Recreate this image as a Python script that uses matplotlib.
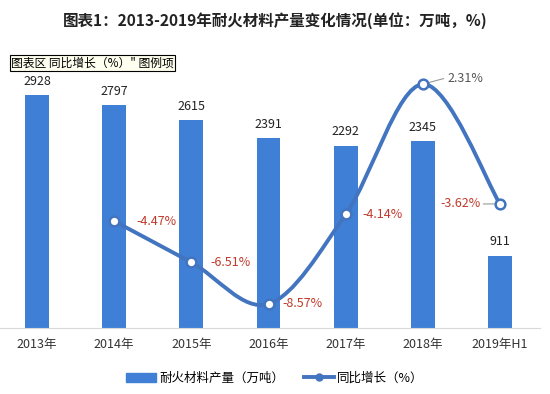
import numpy as np
import matplotlib
matplotlib.use('Agg')
import matplotlib.pyplot as plt
from matplotlib.path import Path
from matplotlib.patches import PathPatch
from matplotlib.lines import Line2D
from matplotlib.patches import Patch

plt.rcParams['font.family'] = ['Noto Sans CJK SC', 'DejaVu Sans']

years = ['2013年', '2014年', '2015年', '2016年', '2017年', '2018年', '2019年H1']
output = [2928, 2797, 2615, 2391, 2292, 2345, 911]
growth = [-4.47, -6.51, -8.57, -4.14, 2.31, -3.62]   # 2014 .. 2019H1
growth_lbl = ['-4.47%', '-6.51%', '-8.57%', '-4.14%', '2.31%', '-3.62%']

bar_c = '#3f80d6'
line_c = '#4274bf'
red = '#c0392b'

fig = plt.figure(figsize=(5.5, 3.94), dpi=100)
ax = fig.add_axes([0.0, 0.1675, 0.982, 0.68])
x = np.arange(len(years))
ax.bar(x, output, width=0.31, color=bar_c, zorder=2)
for xi, v in zip(x, output):
    ax.text(xi, v + 90, str(v), ha='center', va='bottom', fontsize=9, color='#222222')
ax.set_xlim(-0.48, 6.52)
ax.set_ylim(0, 3367)
ax.set_yticks([])
ax.set_xticks(x)
ax.set_xticklabels(years, fontsize=9, color='#333333')
ax.tick_params(axis='x', length=0, pad=7)
for s in ['top', 'right', 'left']:
    ax.spines[s].set_visible(False)
ax.spines['bottom'].set_color('#d9d9d9')

ax2 = ax.twinx()
ax2.set_ylim(-9.76, 3.5)
ax2.set_yticks([])
for s in ax2.spines.values():
    s.set_visible(False)

# smoothed line through the points (Catmull-Rom style bezier)
gx = x[1:].astype(float)
pts = np.column_stack([gx, growth])
verts = [tuple(pts[0])]
codes = [Path.MOVETO]
n = len(pts)
for i in range(n - 1):
    p0 = pts[i - 1] if i > 0 else pts[i]
    p1 = pts[i]
    p2 = pts[i + 1]
    p3 = pts[i + 2] if i + 2 < n else pts[i + 1]
    c1 = p1 + (p2 - p0) / 6
    c2 = p2 - (p3 - p1) / 6
    verts += [tuple(c1), tuple(c2), tuple(p2)]
    codes += [Path.CURVE4] * 3
ax2.add_patch(PathPatch(Path(verts, codes), fill=False, edgecolor=line_c, lw=2.8, zorder=3))
ax2.plot(gx, growth, 'o', ms=7, mfc='white', mec=line_c, mew=1.8, zorder=4)

offs = [(16, 0, 'left'), (14, 0, 'left'), (10, 0, 'left'), (12, 0, 'left'), (18, 4, 'left'), (-14, 0, 'right')]
for xi, v, t, (dx, dy, ha) in zip(gx, growth, growth_lbl, offs):
    c = '#555555' if v > 0 else red
    ax2.annotate(t, (xi, v), xytext=(dx, dy), textcoords='offset points',
                 ha=ha, va='center', fontsize=9, color=c)
# leader lines
ax2.annotate('', (gx[4], growth[4]), xytext=(15, 4), textcoords='offset points',
             arrowprops=dict(arrowstyle='-', color='#999999', lw=0.8, shrinkA=0, shrinkB=4))
ax2.annotate('', (gx[5], growth[5]), xytext=(-12, 0), textcoords='offset points',
             arrowprops=dict(arrowstyle='-', color='#999999', lw=0.8, shrinkA=0, shrinkB=4))

fig.text(0.5, 0.948, '图表1：2013-2019年耐火材料产量变化情况(单位：万吨，%)',
         ha='center', va='center', fontsize=11.2, fontweight='bold', color='#222222')
fig.text(0.02, 0.84, '图表区 同比增长（%）" 图例项', fontsize=8.5, va='center',
         bbox=dict(boxstyle='square,pad=0.12', fc='#fffff0', ec='black', lw=0.8))

handles = [Patch(color=bar_c),
           Line2D([0], [0], color=line_c, lw=2.8, marker='o', ms=5, mfc=line_c, mec=line_c)]
fig.legend(handles, ['耐火材料产量（万吨）', '同比增长（%）'], loc='center',
           bbox_to_anchor=(0.5, 0.04), ncol=2, frameon=False, fontsize=9,
           handlelength=2.4, columnspacing=1.5, handletextpad=0.3)

fig.savefig('out.png', dpi=100)
